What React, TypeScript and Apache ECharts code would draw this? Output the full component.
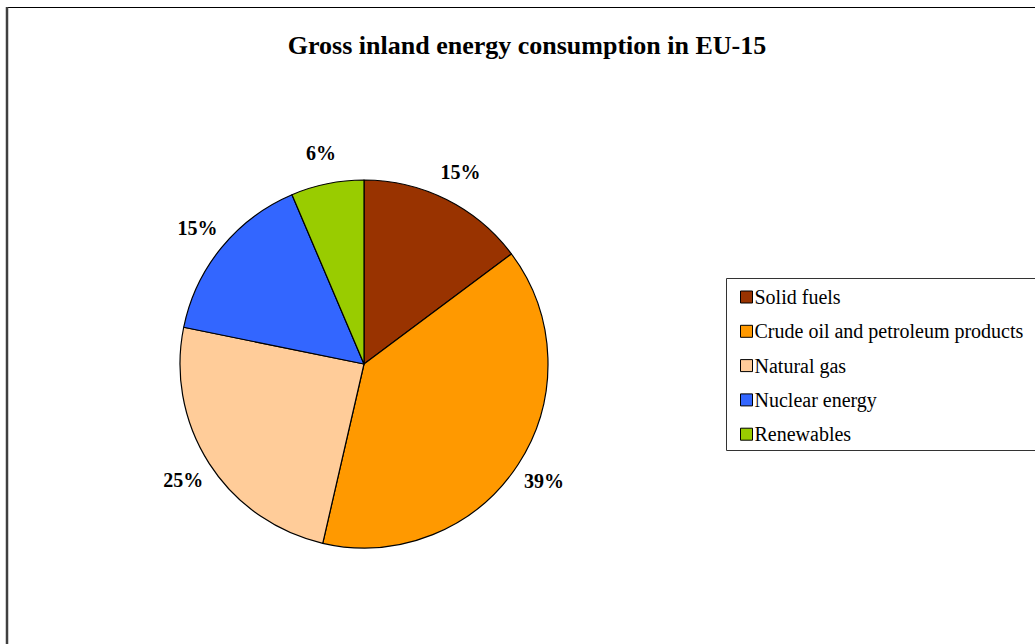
import React, { useEffect, useRef } from "react";
import * as echarts from "echarts";

const titleText = "Gross inland energy consumption in EU-15";
const categories = [
  "Solid fuels",
  "Crude oil and petroleum products",
  "Natural gas",
  "Nuclear energy",
  "Renewables",
];
const shares = [14.8, 38.8, 24.6, 15.4, 6.4];
const colors = ["#993300", "#FF9900", "#FFCC99", "#3366FF", "#99CC00"];

export default function App() {
  const ref = useRef<HTMLDivElement>(null);
  useEffect(() => {
    if (!ref.current) return;
    const chart = echarts.init(ref.current, undefined, { renderer: "svg" });
    const font = "'Liberation Serif', 'Times New Roman', serif";
    const data = categories.map((name, i) => ({
      name,
      value: shares[i],
      itemStyle: { color: colors[i] },
    }));
    chart.setOption({
      animation: false,
      backgroundColor: "#ffffff",
      textStyle: { fontFamily: font },
      graphic: [
        {
          type: "rect",
          shape: { x: 7.5, y: 7.5, width: 1100, height: 700 },
          style: { fill: "none", stroke: "#000", lineWidth: 1 },
          silent: true,
        },
        {
          type: "line",
          shape: { x1: 7, y1: 7, x2: 7, y2: 700 },
          style: { stroke: "#404040", lineWidth: 2.5 },
          silent: true,
        },
        {
          type: "rect",
          shape: { x: 726.5, y: 278.5, width: 400, height: 172 },
          style: { fill: "none", stroke: "#333", lineWidth: 1 },
          silent: true,
        },
        {
          type: "text",
          x: 527,
          y: 45,
          style: {
            text: titleText,
            font: `bold 26px ${font}`,
            fill: "#000",
            align: "center",
            verticalAlign: "middle",
          },
        },
      ],
      legend: {
        orient: "vertical",
        left: 735,
        top: 282,
        itemWidth: 12,
        itemHeight: 12,
        itemGap: 14.3,
        icon: "rect",
        data: categories,
        itemStyle: { borderColor: "#000", borderWidth: 1 },
        textStyle: {
          fontFamily: font,
          fontSize: 20,
          color: "#000",
          lineHeight: 20,
          padding: [0, 0, 0, -3],
        },
      },
      series: [
        {
          type: "pie",
          center: [364, 364],
          radius: [0, 184],
          startAngle: 90,
          clockwise: true,
          avoidLabelOverlap: false,
          label: { show: false },
          labelLine: { show: false },
          itemStyle: { borderColor: "#000", borderWidth: 1.2 },
          emphasis: { disabled: true },
          data,
        },
        {
          type: "pie",
          center: [364, 364],
          radius: [197, 227],
          startAngle: 90,
          clockwise: true,
          silent: true,
          avoidLabelOverlap: false,
          itemStyle: { color: "rgba(0,0,0,0)", borderWidth: 0 },
          label: {
            show: true,
            position: "inside",
            fontFamily: font,
            fontSize: 20,
            fontWeight: "bold",
            color: "#000",
            formatter: (p: any) => Math.round(p.percent) + "%",
          },
          labelLine: { show: false },
          emphasis: { disabled: true },
          data: categories.map((name, i) => ({ name, value: shares[i] })),
        },
      ],
    });
    return () => chart.dispose();
  }, []);
  return (
    <div
      ref={ref}
      style={{ position: "fixed", left: 0, top: 0, width: 1035, height: 644 }}
    />
  );
}
